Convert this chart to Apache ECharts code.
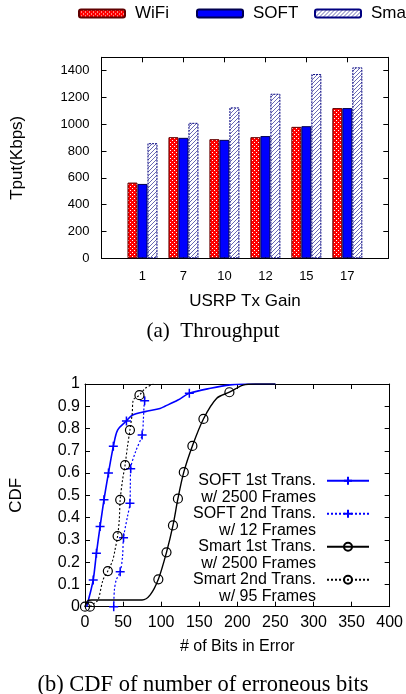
<!DOCTYPE html>
<html>
<head>
<meta charset="utf-8">
<script src="https://cdn.jsdelivr.net/npm/echarts@6/dist/echarts.min.js"></script>
<style>
html,body{margin:0;padding:0;background:#fff;}
#c{width:406px;height:694px;}
</style>
</head>
<body>
<div id="c"></div>
<script>
// ---- Data: (a) Throughput ----
const gains = ['1', '7', '10', '12', '15', '17'];
const wifiTput = [565, 904, 889, 904, 981, 1121];
const softTput = [555, 899, 884, 912, 986, 1121];
const smartTput = [859, 1011, 1126, 1228, 1375, 1425];
const barNames = ['WiFi', 'SOFT', 'Smart'];

// ---- Data: (b) CDF of erroneous bits [bits, cdf] ----
const soft1st = [[2.2,0],[6,0.05],[10.8,0.12],[15,0.24],[19.8,0.36],[24.9,0.48],[30.8,0.6],[37.2,0.72],[42.8,0.793],[54.4,0.834],[62,0.86],[79,0.876],[98.5,0.89],[105,0.9],[122,0.928],[137,0.958],[164.8,0.981],[190.5,0.996],[220,1],[250,1]];
const soft1stMarks = [2,3,4,5,6,7,9,15];
const soft2nd = [[37.7,0],[38.6,0.075],[41,0.12],[46.2,0.157],[49.3,0.225],[50.6,0.31],[55.7,0.404],[59,0.464],[59.5,0.54],[60,0.62],[66.4,0.696],[75,0.771],[76.6,0.838],[77.5,0.9],[78.3,0.925],[78.5,0.94]];
const soft2ndMarks = [0,3,5,7,9,11,14];
const smart1st = [[0,0],[3,0.025],[8.6,0.03],[40,0.03],[75,0.03],[85.6,0.053],[96.3,0.123],[107,0.244],[115.5,0.365],[122,0.485],[129.7,0.604],[141,0.722],[155.5,0.843],[173,0.936],[189.6,0.963],[207.6,0.995],[224,1],[250,1]];
const smart1stMarks = [0,6,7,8,9,10,11,12,14];
const smart2nd = [[6.4,0],[12,0.015],[17.2,0.03],[23.6,0.12],[30,0.16],[36.5,0.21],[39.4,0.255],[42.8,0.317],[45,0.39],[46.2,0.48],[49.3,0.569],[52.6,0.636],[55.7,0.718],[59,0.793],[62,0.868],[63.4,0.928],[71.5,0.95],[79.2,0.981],[89.9,1]];
const smart2ndMarks = [0,4,7,9,11,13,16];

const cdfNames = ['SOFT 1st Trans.', 'SOFT 2nd Trans.', 'Smart 1st Trans.', 'Smart 2nd Trans.'];
const cdfSubs = ['w/ 2500 Frames', 'w/ 12 Frames', 'w/ 2500 Frames', 'w/ 95 Frames'];
const xTicksB = [0, 400, 50];
const yTicksB = [0, 1, 0.1];

// ---- patterns ----
function makePattern(size, bg, fg, pts) {
  const cv = document.createElement('canvas');
  cv.width = size; cv.height = size;
  const ctx = cv.getContext('2d');
  ctx.fillStyle = bg; ctx.fillRect(0, 0, size, size);
  ctx.fillStyle = fg;
  pts.forEach(p => ctx.fillRect(p[0], p[1], 1, 1));
  return { image: cv, repeat: 'repeat' };
}
const redPat = makePattern(4, '#ff0000', '#ffffff', [[0,0],[2,2]]);
const hatchPat = makePattern(4, '#ffffff', '#6a6ab4', [[3,0],[2,1],[1,2],[0,3]]);

const SANS = 'Liberation Sans, Arial, sans-serif';
const SERIF = 'Liberation Serif, Times New Roman, serif';

function markData(arr, marks) {
  return arr.map((p, i) => marks.indexOf(i) >= 0 ? { value: p } : { value: p, symbol: 'none' });
}

const plusPath = 'path://M5,0L5,10M0,5L10,5';

const chart = echarts.init(document.getElementById('c'), null, { renderer: 'canvas' });

const axisCommon = {
  axisLine: { show: true, onZero: false, lineStyle: { color: '#000', width: 1 } },
  axisTick: { show: true, inside: true, length: 5, lineStyle: { color: '#000' } },
  splitLine: { show: false }
};

const barLegendLeft = [78, 196, 314];
const barLegends = barNames.map((n, i) => ({
  data: [n], left: barLegendLeft[i], top: 5, orient: 'horizontal',
  itemWidth: 46, itemHeight: 8, itemGap: 0, padding: 0,
  textStyle: { fontFamily: SANS, fontSize: 17, color: '#000', padding: [0, 0, 0, 5] }
}));

const option = {
  animation: false,
  backgroundColor: '#fff',
  textStyle: { fontFamily: SANS, color: '#000' },
  title: [
    { text: '(a)  Throughput', left: 213, top: 321, textAlign: 'center', padding: 0,
      textStyle: { fontFamily: SERIF, fontSize: 21, fontWeight: 'normal', color: '#000' } },
    { text: '(b) CDF of number of erroneous bits', left: 203, top: 674, textAlign: 'center', padding: 0,
      textStyle: { fontFamily: SERIF, fontSize: 22.5, fontWeight: 'normal', color: '#000' } }
  ],
  grid: [
    { left: 101.5, top: 57.3, right: 17.7, bottom: 435.7, containLabel: false },
    { left: 78.3, top: 384, right: 16, bottom: 87.3, containLabel: false }
  ],
  legend: barLegends.concat([
    {
      data: cdfNames,
      right: 36, top: 456, orient: 'vertical', align: 'right',
      itemWidth: 42, itemHeight: 10, itemGap: -16.5, padding: 0,
      formatter: function (name) { return '\n' + name + '\n' + cdfSubs[cdfNames.indexOf(name)]; },
      textStyle: { fontFamily: SANS, fontSize: 16, lineHeight: 16.5, color: '#000', padding: [0, 6, 0, 0] }
    }
  ]),
  xAxis: [
    Object.assign({}, axisCommon, {
      type: 'value', gridIndex: 0, min: 0, max: 7, interval: 1, position: 'bottom',
      axisLabel: { fontSize: 13, margin: 12, color: '#000', fontFamily: SANS,
        formatter: v => (v >= 1 && v <= gains.length) ? gains[v - 1] : '' },
      name: 'USRP Tx Gain', nameLocation: 'middle', nameGap: 35,
      nameTextStyle: { fontSize: 17, color: '#000', fontFamily: SANS }
    }),
    Object.assign({}, axisCommon, {
      type: 'value', gridIndex: 0, min: 0, max: 7, interval: 1, position: 'top',
      axisLabel: { show: false }
    }),
    Object.assign({}, axisCommon, {
      type: 'value', gridIndex: 1, min: xTicksB[0], max: xTicksB[1], interval: xTicksB[2], position: 'bottom',
      axisLabel: { fontSize: 16, margin: 8, color: '#000', fontFamily: SANS },
      name: '# of Bits in Error', nameLocation: 'middle', nameGap: 32,
      nameTextStyle: { fontSize: 16, color: '#000', fontFamily: SANS }
    }),
    Object.assign({}, axisCommon, {
      type: 'value', gridIndex: 1, min: xTicksB[0], max: xTicksB[1], interval: xTicksB[2], position: 'top',
      axisLabel: { show: false }
    })
  ],
  yAxis: [
    Object.assign({}, axisCommon, {
      type: 'value', gridIndex: 0, min: 0, max: 1500, interval: 200, position: 'left',
      axisLabel: { fontSize: 13, margin: 12, color: '#000', fontFamily: SANS, showMaxLabel: false,
        formatter: v => String(v) },
      name: 'Tput(Kbps)', nameLocation: 'middle', nameGap: 76,
      nameTextStyle: { fontSize: 17, color: '#000', fontFamily: SANS }
    }),
    Object.assign({}, axisCommon, {
      type: 'value', gridIndex: 0, min: 0, max: 1500, interval: 200, position: 'right',
      axisLabel: { show: false }
    }),
    Object.assign({}, axisCommon, {
      type: 'value', gridIndex: 1, min: yTicksB[0], max: yTicksB[1], interval: yTicksB[2], position: 'left',
      axisLabel: { fontSize: 16, margin: 5, color: '#000', fontFamily: SANS },
      name: 'CDF', nameLocation: 'middle', nameGap: 60,
      nameTextStyle: { fontSize: 17, color: '#000', fontFamily: SANS }
    }),
    Object.assign({}, axisCommon, {
      type: 'value', gridIndex: 1, min: yTicksB[0], max: yTicksB[1], interval: yTicksB[2], position: 'right',
      axisLabel: { show: false }
    })
  ],
  series: [
    {
      name: barNames[0], type: 'bar', xAxisIndex: 0, yAxisIndex: 0, barWidth: 10, barGap: '0%',
      data: wifiTput.map((v, i) => [i + 1, v]),
      itemStyle: { color: redPat, borderColor: '#600000', borderWidth: 1 }
    },
    {
      name: barNames[1], type: 'bar', xAxisIndex: 0, yAxisIndex: 0, barWidth: 10, barGap: '0%',
      data: softTput.map((v, i) => [i + 1, v]),
      itemStyle: { color: '#0000ff', borderColor: '#000050', borderWidth: 1 }
    },
    {
      name: barNames[2], type: 'bar', xAxisIndex: 0, yAxisIndex: 0, barWidth: 10, barGap: '0%',
      data: smartTput.map((v, i) => [i + 1, v]),
      itemStyle: { color: hatchPat, borderColor: '#000080', borderWidth: 1, borderType: [2, 1] }
    },
    {
      name: cdfNames[0], type: 'line', xAxisIndex: 2, yAxisIndex: 2, smooth: 0.3,
      showAllSymbol: true, symbol: plusPath, symbolSize: 9,
      data: markData(soft1st, soft1stMarks),
      lineStyle: { color: '#0000ff', width: 1.6, type: 'solid' },
      itemStyle: { color: '#0000ff', borderColor: '#0000ff', borderWidth: 1.5 }
    },
    {
      name: cdfNames[1], type: 'line', xAxisIndex: 2, yAxisIndex: 2, smooth: 0.3,
      showAllSymbol: true, symbol: plusPath, symbolSize: 9,
      data: markData(soft2nd, soft2ndMarks),
      lineStyle: { color: '#0000ff', width: 1.2, type: [2, 2] },
      itemStyle: { color: '#0000ff', borderColor: '#0000ff', borderWidth: 1.5 }
    },
    {
      name: cdfNames[2], type: 'line', xAxisIndex: 2, yAxisIndex: 2, smooth: 0.3,
      showAllSymbol: true, symbol: 'circle', symbolSize: 9,
      data: markData(smart1st, smart1stMarks),
      lineStyle: { color: '#000000', width: 1.4, type: 'solid' },
      itemStyle: { color: 'rgba(0,0,0,0)', borderColor: '#000000', borderWidth: 1.2 }
    },
    {
      name: cdfNames[3], type: 'line', xAxisIndex: 2, yAxisIndex: 2, smooth: 0.3,
      showAllSymbol: true, symbol: 'circle', symbolSize: 9,
      data: markData(smart2nd, smart2ndMarks),
      lineStyle: { color: '#000000', width: 1.1, type: [2, 2] },
      itemStyle: { color: 'rgba(0,0,0,0)', borderColor: '#000000', borderWidth: 1.2 }
    }
  ]
};
chart.setOption(option);
</script>
</body>
</html>
